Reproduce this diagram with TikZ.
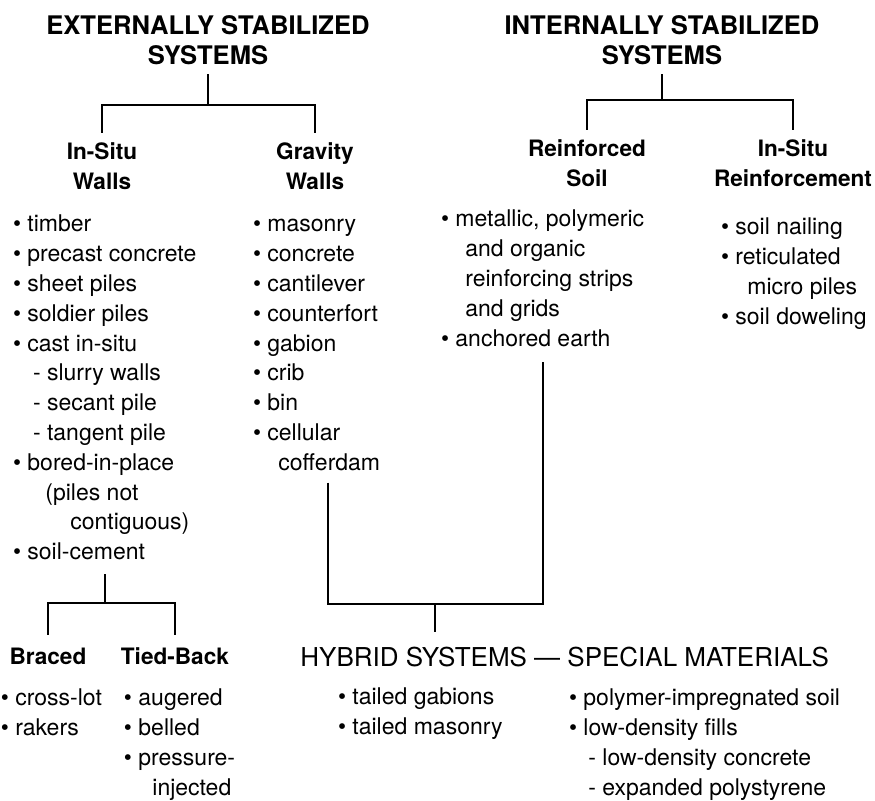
\documentclass[tikz,border=0pt]{standalone}
\usepackage{fontspec}
\setmainfont{TeX Gyre Heros}
\usetikzlibrary{positioning}

\newcommand{\headfont}{\fontsize{12.8}{15}\selectfont\bfseries}
\newcommand{\subfont}{\fontsize{11.3}{15}\selectfont\bfseries}
\newcommand{\listfont}{\fontsize{11.5}{14.9}\selectfont}
\newcommand{\hybfont}{\fontsize{13}{16}\selectfont}

\tikzset{
  head/.style={inner sep=0pt, anchor=base, font=\headfont},
  sub/.style={inner sep=0pt, anchor=base, font=\subfont},
  items/.style={inner sep=0pt, anchor=base west, font=\listfont},
  link/.style={line width=1pt},
}

\begin{document}
\begin{tikzpicture}[x=0.5pt,y=-0.5pt]
\useasboundingbox (0,0) rectangle (875,801);

% the two main families
\node[head] (ext) at (208,35) {\begin{tabular}[t]{@{}c@{}}EXTERNALLY STABILIZED\\SYSTEMS\end{tabular}};
\node[head] (int) at (662,35) {\begin{tabular}[t]{@{}c@{}}INTERNALLY STABILIZED\\SYSTEMS\end{tabular}};

% wall types
\node[sub] (insitu) at (102,160) {\begin{tabular}[t]{@{}c@{}}In-Situ\\Walls\end{tabular}};
\node[sub] (gravity) at (315,160) {\begin{tabular}[t]{@{}c@{}}Gravity\\Walls\end{tabular}};
\node[sub] (reinf) at (587,157) {\begin{tabular}[t]{@{}c@{}}Reinforced\\Soil\end{tabular}};
\node[sub] (nailing) at (793,157) {\begin{tabular}[t]{@{}c@{}}In-Situ\\Reinforcement\end{tabular}};

\node[items] (walls) at (12.6,232) {\begin{tabular}[t]{@{}l@{}}
  • timber\\
  • precast concrete\\
  • sheet piles\\
  • soldier piles\\
  • cast in-situ\\
  \hspace*{10pt}- slurry walls\\
  \hspace*{10pt}- secant pile\\
  \hspace*{10pt}- tangent pile\\
  • bored-in-place\\
  \hspace*{16.2pt}(piles not\\
  \hspace*{28.7pt}contiguous)\\
  • soil-cement
\end{tabular}};

\node[items] (grav) at (252.6,232) {\begin{tabular}[t]{@{}l@{}}
  • masonry\\
  • concrete\\
  • cantilever\\
  • counterfort\\
  • gabion\\
  • crib\\
  • bin\\
  • cellular\\
  \hspace*{12.7pt}cofferdam
\end{tabular}};

\node[items] (strips) at (440.6,227) {\begin{tabular}[t]{@{}l@{}}
  • metallic, polymeric\\
  \hspace*{12.2pt}and organic\\
  \hspace*{12.2pt}reinforcing strips\\
  \hspace*{12.2pt}and grids\\
  • anchored earth
\end{tabular}};

\node[items] (nails) at (720.6,235) {\begin{tabular}[t]{@{}l@{}}
  • soil nailing\\
  • reticulated\\
  \hspace*{13.2pt}micro piles\\
  • soil doweling
\end{tabular}};

% support of in-situ walls
\node[sub] (braced) at (48,665) {\begin{tabular}[t]{@{}c@{}}Braced\end{tabular}};
\node[sub] (tied) at (175,665) {\begin{tabular}[t]{@{}c@{}}Tied-Back\end{tabular}};

\node[items] (struts) at (0.5,706) {\begin{tabular}[t]{@{}l@{}}
  • cross-lot\\
  • rakers
\end{tabular}};
\node[items] (anchors) at (123.6,706) {\begin{tabular}[t]{@{}l@{}}
  • augered\\
  • belled\\
  • pressure-\\
  \hspace*{14.2pt}injected
\end{tabular}};

% hybrid systems
\node[inner sep=0pt, anchor=base west, font=\hybfont] (hyb) at (300,667) {HYBRID SYSTEMS — SPECIAL MATERIALS};
\node[items] (tailed) at (337.6,705) {\begin{tabular}[t]{@{}l@{}}
  • tailed gabions\\
  • tailed masonry
\end{tabular}};
\node[items] (special) at (568.6,706) {\begin{tabular}[t]{@{}l@{}}
  • polymer-impregnated soil\\
  • low-density fills\\
  \hspace*{9.7pt}- low-density concrete\\
  \hspace*{9.7pt}- expanded polystyrene
\end{tabular}};

% brackets
\draw[link] (ext.south) -- ++(0,31) coordinate (ej);
\draw[link,shorten >=3pt] (ej) -| (insitu.north);
\draw[link,shorten >=3pt] (ej) -| (gravity.north);

\draw[link] (int.south) -- ++(0,26) coordinate (ij);
\draw[link,shorten >=3pt] (ij) -| (reinf.north);
\draw[link,shorten >=3pt] (ij) -| (nailing.north);

\draw[link] (walls.south) ++(0,5) -- ++(0,29) coordinate (wj);
\draw[link,shorten >=4.5pt] (wj) -| (braced.north);
\draw[link,shorten >=4.5pt] (wj) -| (tied.north);

\draw[link] (grav.south) ++(11,3) -- ++(0,121) -| node[pos=0.25,coordinate] (hj) {} ([yshift=-3pt]strips.south);
\draw[link,shorten >=7.5pt] (hj) -- (hj |- hyb.north);
\end{tikzpicture}
\end{document}
